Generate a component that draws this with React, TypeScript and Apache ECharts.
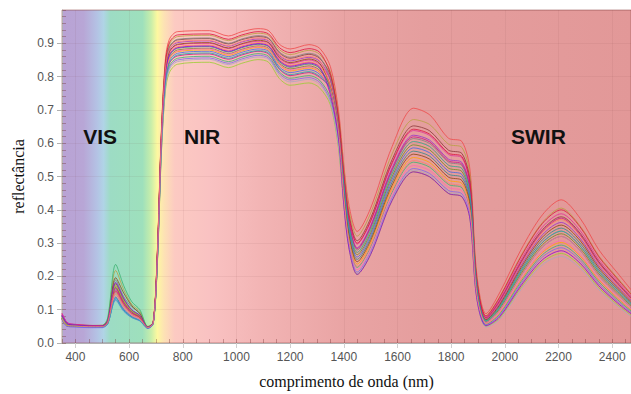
import { useEffect, useRef } from "react";
import * as echarts from "echarts";

const wavelengths = [350, 370, 400, 450, 500, 520, 550, 580, 610, 640, 670, 690, 705, 720, 735, 750, 780, 900, 970, 1020, 1080, 1120, 1160, 1200, 1270, 1310, 1350, 1380, 1400, 1420, 1450, 1500, 1580, 1660, 1720, 1790, 1840, 1870, 1895, 1930, 1980, 2060, 2140, 2210, 2280, 2350, 2420, 2470];

const s01 = [0.085, 0.058, 0.054, 0.052, 0.052, 0.064, 0.171, 0.126, 0.095, 0.080, 0.048, 0.064, 0.27, 0.63, 0.85, 0.912, 0.935, 0.938, 0.922, 0.935, 0.944, 0.938, 0.897, 0.883, 0.896, 0.885, 0.830, 0.700, 0.535, 0.410, 0.335, 0.405, 0.590, 0.705, 0.685, 0.615, 0.605, 0.520, 0.210, 0.088, 0.150, 0.280, 0.385, 0.430, 0.375, 0.280, 0.210, 0.160];
const s02 = [0.080, 0.056, 0.055, 0.053, 0.054, 0.072, 0.218, 0.160, 0.116, 0.095, 0.050, 0.062, 0.26, 0.62, 0.835, 0.897, 0.920, 0.924, 0.908, 0.921, 0.930, 0.924, 0.881, 0.866, 0.879, 0.867, 0.815, 0.685, 0.522, 0.396, 0.321, 0.390, 0.568, 0.671, 0.656, 0.597, 0.587, 0.504, 0.202, 0.082, 0.138, 0.262, 0.362, 0.405, 0.352, 0.262, 0.195, 0.148];
const s03 = [0.074, 0.052, 0.051, 0.049, 0.050, 0.065, 0.178, 0.131, 0.098, 0.082, 0.046, 0.060, 0.26, 0.615, 0.825, 0.887, 0.910, 0.914, 0.898, 0.911, 0.920, 0.914, 0.871, 0.855, 0.867, 0.855, 0.803, 0.673, 0.509, 0.382, 0.307, 0.375, 0.551, 0.652, 0.637, 0.579, 0.569, 0.488, 0.194, 0.076, 0.126, 0.244, 0.340, 0.379, 0.330, 0.244, 0.180, 0.136];
const s04 = [0.081, 0.057, 0.053, 0.050, 0.049, 0.061, 0.153, 0.113, 0.087, 0.074, 0.045, 0.061, 0.255, 0.61, 0.817, 0.880, 0.902, 0.907, 0.891, 0.904, 0.913, 0.907, 0.863, 0.847, 0.858, 0.846, 0.790, 0.660, 0.490, 0.361, 0.286, 0.353, 0.526, 0.624, 0.609, 0.552, 0.542, 0.464, 0.182, 0.072, 0.118, 0.232, 0.325, 0.362, 0.315, 0.232, 0.170, 0.128];
const s05 = [0.090, 0.060, 0.055, 0.052, 0.051, 0.062, 0.160, 0.118, 0.090, 0.076, 0.047, 0.063, 0.254, 0.607, 0.81, 0.872, 0.895, 0.900, 0.884, 0.897, 0.906, 0.900, 0.855, 0.839, 0.850, 0.837, 0.789, 0.659, 0.499, 0.372, 0.297, 0.364, 0.538, 0.638, 0.623, 0.566, 0.556, 0.476, 0.188, 0.078, 0.130, 0.250, 0.348, 0.388, 0.338, 0.250, 0.185, 0.140];
const s06 = [0.076, 0.054, 0.052, 0.051, 0.050, 0.060, 0.146, 0.108, 0.084, 0.071, 0.046, 0.059, 0.252, 0.604, 0.805, 0.867, 0.890, 0.895, 0.879, 0.892, 0.902, 0.895, 0.850, 0.834, 0.844, 0.831, 0.776, 0.646, 0.477, 0.347, 0.272, 0.338, 0.509, 0.605, 0.590, 0.534, 0.524, 0.448, 0.174, 0.074, 0.122, 0.238, 0.333, 0.371, 0.323, 0.238, 0.175, 0.132];
const s07 = [0.079, 0.055, 0.053, 0.051, 0.052, 0.067, 0.189, 0.139, 0.108, 0.090, 0.048, 0.062, 0.262, 0.618, 0.827, 0.890, 0.912, 0.916, 0.900, 0.913, 0.923, 0.916, 0.874, 0.858, 0.870, 0.858, 0.793, 0.663, 0.483, 0.354, 0.279, 0.345, 0.517, 0.614, 0.599, 0.543, 0.533, 0.456, 0.178, 0.066, 0.106, 0.214, 0.302, 0.336, 0.292, 0.214, 0.155, 0.116];
const s08 = [0.072, 0.051, 0.050, 0.049, 0.049, 0.063, 0.167, 0.123, 0.093, 0.078, 0.045, 0.060, 0.248, 0.596, 0.795, 0.857, 0.880, 0.885, 0.869, 0.882, 0.892, 0.885, 0.840, 0.823, 0.832, 0.819, 0.767, 0.637, 0.470, 0.340, 0.265, 0.330, 0.500, 0.595, 0.580, 0.525, 0.515, 0.440, 0.170, 0.064, 0.102, 0.208, 0.295, 0.328, 0.285, 0.208, 0.150, 0.112];
const s09 = [0.083, 0.058, 0.054, 0.051, 0.050, 0.058, 0.138, 0.102, 0.080, 0.069, 0.046, 0.061, 0.25, 0.60, 0.80, 0.862, 0.885, 0.890, 0.874, 0.887, 0.897, 0.890, 0.845, 0.828, 0.838, 0.825, 0.764, 0.634, 0.457, 0.326, 0.251, 0.315, 0.483, 0.576, 0.561, 0.507, 0.497, 0.424, 0.162, 0.068, 0.110, 0.220, 0.310, 0.345, 0.300, 0.220, 0.160, 0.120];
const s10 = [0.070, 0.050, 0.049, 0.047, 0.047, 0.058, 0.135, 0.100, 0.079, 0.068, 0.044, 0.058, 0.244, 0.59, 0.785, 0.847, 0.870, 0.876, 0.860, 0.873, 0.883, 0.876, 0.829, 0.812, 0.821, 0.807, 0.758, 0.628, 0.463, 0.333, 0.258, 0.323, 0.492, 0.586, 0.571, 0.516, 0.506, 0.432, 0.166, 0.062, 0.098, 0.202, 0.288, 0.320, 0.278, 0.202, 0.145, 0.108];
const s11 = [0.077, 0.055, 0.052, 0.050, 0.050, 0.060, 0.149, 0.110, 0.085, 0.072, 0.047, 0.060, 0.246, 0.592, 0.79, 0.852, 0.875, 0.880, 0.864, 0.877, 0.888, 0.880, 0.835, 0.817, 0.826, 0.813, 0.752, 0.622, 0.444, 0.312, 0.237, 0.300, 0.466, 0.557, 0.542, 0.489, 0.479, 0.408, 0.154, 0.058, 0.090, 0.190, 0.272, 0.302, 0.262, 0.190, 0.135, 0.100];
const s12 = [0.075, 0.053, 0.052, 0.051, 0.051, 0.068, 0.196, 0.150, 0.112, 0.088, 0.048, 0.061, 0.255, 0.61, 0.812, 0.875, 0.897, 0.902, 0.886, 0.899, 0.909, 0.902, 0.858, 0.842, 0.853, 0.840, 0.769, 0.639, 0.450, 0.319, 0.244, 0.308, 0.474, 0.567, 0.552, 0.498, 0.488, 0.416, 0.158, 0.070, 0.114, 0.226, 0.318, 0.354, 0.308, 0.226, 0.165, 0.124];
const s13 = [0.088, 0.061, 0.056, 0.053, 0.052, 0.062, 0.164, 0.121, 0.092, 0.077, 0.047, 0.062, 0.241, 0.585, 0.778, 0.840, 0.862, 0.868, 0.852, 0.865, 0.876, 0.868, 0.822, 0.803, 0.812, 0.798, 0.764, 0.634, 0.486, 0.357, 0.283, 0.349, 0.521, 0.619, 0.604, 0.547, 0.537, 0.460, 0.180, 0.075, 0.124, 0.241, 0.336, 0.375, 0.326, 0.241, 0.178, 0.134];
const s14 = [0.073, 0.052, 0.051, 0.050, 0.052, 0.075, 0.236, 0.172, 0.124, 0.100, 0.049, 0.063, 0.238, 0.578, 0.772, 0.832, 0.855, 0.861, 0.845, 0.858, 0.869, 0.861, 0.814, 0.795, 0.803, 0.789, 0.736, 0.606, 0.434, 0.302, 0.227, 0.289, 0.453, 0.543, 0.528, 0.476, 0.466, 0.396, 0.148, 0.056, 0.086, 0.184, 0.265, 0.294, 0.255, 0.184, 0.130, 0.096];
const s15 = [0.086, 0.059, 0.055, 0.052, 0.051, 0.059, 0.142, 0.105, 0.082, 0.070, 0.046, 0.061, 0.247, 0.594, 0.792, 0.855, 0.877, 0.883, 0.867, 0.880, 0.890, 0.883, 0.837, 0.820, 0.829, 0.816, 0.746, 0.616, 0.428, 0.295, 0.220, 0.281, 0.445, 0.533, 0.518, 0.467, 0.457, 0.388, 0.144, 0.059, 0.092, 0.193, 0.276, 0.307, 0.266, 0.193, 0.138, 0.102];
const s16 = [0.071, 0.050, 0.048, 0.046, 0.046, 0.057, 0.128, 0.095, 0.076, 0.066, 0.044, 0.058, 0.236, 0.572, 0.765, 0.827, 0.850, 0.856, 0.840, 0.853, 0.864, 0.856, 0.809, 0.790, 0.797, 0.783, 0.726, 0.596, 0.421, 0.288, 0.213, 0.274, 0.436, 0.524, 0.509, 0.458, 0.448, 0.380, 0.140, 0.054, 0.082, 0.178, 0.258, 0.286, 0.248, 0.178, 0.125, 0.092];
const s17 = [0.074, 0.053, 0.052, 0.050, 0.050, 0.064, 0.174, 0.128, 0.096, 0.081, 0.047, 0.060, 0.230, 0.565, 0.755, 0.812, 0.837, 0.843, 0.827, 0.840, 0.851, 0.843, 0.794, 0.774, 0.781, 0.766, 0.715, 0.585, 0.415, 0.281, 0.206, 0.266, 0.428, 0.514, 0.499, 0.449, 0.439, 0.372, 0.136, 0.050, 0.074, 0.166, 0.243, 0.269, 0.233, 0.166, 0.115, 0.084];
const s18 = [0.079, 0.056, 0.053, 0.051, 0.050, 0.060, 0.149, 0.110, 0.085, 0.072, 0.046, 0.059, 0.234, 0.568, 0.76, 0.822, 0.845, 0.852, 0.836, 0.849, 0.859, 0.852, 0.803, 0.784, 0.792, 0.777, 0.722, 0.592, 0.418, 0.284, 0.209, 0.270, 0.432, 0.519, 0.504, 0.453, 0.443, 0.376, 0.138, 0.048, 0.070, 0.160, 0.235, 0.260, 0.225, 0.160, 0.110, 0.080];
const s19 = [0.082, 0.057, 0.054, 0.052, 0.051, 0.061, 0.156, 0.115, 0.088, 0.075, 0.047, 0.062, 0.265, 0.625, 0.84, 0.902, 0.925, 0.928, 0.912, 0.925, 0.935, 0.928, 0.887, 0.872, 0.884, 0.873, 0.809, 0.679, 0.502, 0.375, 0.300, 0.367, 0.542, 0.642, 0.627, 0.570, 0.560, 0.480, 0.190, 0.081, 0.136, 0.259, 0.359, 0.400, 0.349, 0.259, 0.192, 0.146];
const s20 = [0.080, 0.057, 0.053, 0.050, 0.049, 0.057, 0.131, 0.097, 0.077, 0.067, 0.045, 0.059, 0.242, 0.588, 0.78, 0.842, 0.865, 0.871, 0.855, 0.868, 0.878, 0.871, 0.824, 0.806, 0.815, 0.801, 0.761, 0.631, 0.477, 0.347, 0.272, 0.338, 0.509, 0.605, 0.590, 0.534, 0.524, 0.448, 0.174, 0.066, 0.106, 0.214, 0.302, 0.336, 0.292, 0.214, 0.155, 0.116];
const s21 = [0.084, 0.058, 0.054, 0.051, 0.051, 0.066, 0.182, 0.134, 0.100, 0.083, 0.047, 0.061, 0.251, 0.602, 0.803, 0.865, 0.887, 0.892, 0.876, 0.889, 0.899, 0.892, 0.848, 0.831, 0.841, 0.828, 0.746, 0.616, 0.415, 0.281, 0.206, 0.266, 0.428, 0.514, 0.499, 0.449, 0.439, 0.372, 0.136, 0.052, 0.078, 0.172, 0.250, 0.277, 0.240, 0.172, 0.120, 0.088];
const s22 = [0.073, 0.052, 0.051, 0.049, 0.049, 0.061, 0.153, 0.113, 0.087, 0.074, 0.046, 0.060, 0.258, 0.612, 0.82, 0.882, 0.905, 0.909, 0.893, 0.906, 0.916, 0.909, 0.866, 0.850, 0.861, 0.849, 0.767, 0.637, 0.438, 0.305, 0.230, 0.293, 0.458, 0.548, 0.533, 0.480, 0.470, 0.400, 0.150, 0.062, 0.098, 0.202, 0.288, 0.320, 0.278, 0.202, 0.145, 0.108];

const spectra = [s01, s02, s03, s04, s05, s06, s07, s08, s09, s10, s11, s12, s13, s14, s15, s16, s17, s18, s19, s20, s21, s22];
const lineColors = ["#ef4a4a", "#b8a040", "#8b3a3a", "#9932cc", "#e0309a", "#ff7f50", "#808080", "#6b8e23", "#2e8b8b", "#4169e1", "#ffa500", "#8b4513", "#c71585", "#3cb371", "#ff69b4", "#7b68ee", "#9acd32", "#a9a9c0", "#dc143c", "#20b2aa", "#9400d3", "#fa8072"];

const regionNames = ["VIS", "NIR", "SWIR"];
const regionCenters = [492, 872, 2125];

const xName = "comprimento de onda (nm)";
const yName = "reflectância";

const X_MIN = 350;
const X_MAX = 2470;

const bgStops: [number, string][] = [
  [350, "#b9a2d4"],
  [430, "#b8a6d6"],
  [480, "#b4c2e4"],
  [505, "#b0d4e6"],
  [530, "#9ddcc4"],
  [650, "#9ee0bc"],
  [682, "#c8eeaa"],
  [705, "#fdf8a0"],
  [730, "#fde2b4"],
  [770, "#fccac2"],
  [900, "#f9c2c2"],
  [1100, "#f2b4b4"],
  [1400, "#e9a4a4"],
  [1700, "#e59e9e"],
  [2470, "#e29898"],
];

export default function App() {
  const ref = useRef<HTMLDivElement>(null);
  useEffect(() => {
    if (!ref.current) return;
    const chart = echarts.init(ref.current, null, { renderer: "svg" });
    const labelFont = { fontFamily: "Liberation Sans, Arial, sans-serif", fontSize: 12, color: "#555" };
    const series = spectra.map((vals, i) => ({
      type: "line",
      name: "s" + (i + 1),
      data: wavelengths.map((w, j) => [w, vals[j]]),
      smooth: 0.3,
      showSymbol: false,
      symbol: "none",
      lineStyle: { width: 1, color: lineColors[i], opacity: 0.8 },
      xAxisIndex: 0,
      yAxisIndex: 0,
      z: 3,
    }));
    chart.setOption({
      animation: false,
      grid: {
        left: 62,
        right: 0,
        top: 10,
        bottom: 50,
        show: true,
        borderWidth: 1,
        borderColor: "rgba(150,80,80,0.55)",
        backgroundColor: {
          type: "linear",
          x: 0,
          y: 0,
          x2: 1,
          y2: 0,
          colorStops: bgStops.map(([w, c]) => ({ offset: (w - X_MIN) / (X_MAX - X_MIN), color: c })),
        },
      },
      xAxis: [
        {
          type: "value",
          min: X_MIN,
          max: X_MAX,
          splitNumber: 10,
          name: xName,
          nameLocation: "middle",
          nameGap: 30,
          nameTextStyle: { fontFamily: "Liberation Serif, Times New Roman, serif", fontSize: 16, color: "#111" },
          axisLine: { show: true, onZero: false, lineStyle: { color: "#b0b0b0" } },
          axisTick: { show: true, inside: false, length: 5, lineStyle: { color: "#d0d0d0" } },
          axisLabel: { ...labelFont, margin: 8, showMinLabel: false, showMaxLabel: false, formatter: (v: number) => String(v) },
          splitLine: { show: true, lineStyle: { color: "rgba(110,60,60,0.07)", width: 1 } },
        },
        {
          type: "value",
          min: X_MIN,
          max: X_MAX,
          interval: 50,
          position: "bottom",
          axisLine: { show: false },
          axisTick: { show: true, inside: true, length: 4, lineStyle: { color: "rgba(110,40,40,0.35)" } },
          axisLabel: { show: false },
          splitLine: { show: false },
        },
      ],
      yAxis: [
        {
          type: "value",
          min: 0,
          max: 1,
          interval: 0.1,
          position: "left",
          name: yName,
          nameLocation: "middle",
          nameGap: 36,
          nameTextStyle: { fontFamily: "Liberation Serif, Times New Roman, serif", fontSize: 16, color: "#111" },
          axisLine: { show: true, lineStyle: { color: "#b0b0b0" } },
          axisTick: { show: true, inside: false, length: 5, lineStyle: { color: "#b0b0b0" } },
          axisLabel: { ...labelFont, margin: 8, showMaxLabel: false, formatter: (v: number) => v.toFixed(1) },
          splitLine: { show: true, lineStyle: { color: "rgba(110,60,60,0.07)", width: 1 } },
        },
        {
          type: "value",
          min: 0,
          max: 1,
          interval: 0.02,
          position: "left",
          axisLine: { show: false },
          axisTick: { show: true, inside: true, length: 4, lineStyle: { color: "rgba(110,40,40,0.35)" } },
          axisLabel: { show: false },
          splitLine: { show: false },
        },
      ],
      series,
    });
    chart.setOption({
      graphic: regionNames.map((t, i) => {
        const p = chart.convertToPixel({ xAxisIndex: 0, yAxisIndex: 0 }, [regionCenters[i], 0.62]) as number[];
        return {
          type: "text",
          x: p[0],
          y: p[1],
          z: 10,
          style: {
            text: t,
            fontFamily: "Liberation Sans, Arial, sans-serif",
            fontWeight: "bold",
            fontSize: 21,
            fill: "#111",
            align: "center",
            verticalAlign: "middle",
          },
        };
      }),
    });
    return () => chart.dispose();
  }, []);
  return <div ref={ref} style={{ width: 631, height: 394, position: "absolute", left: 0, top: 0 }} />;
}
